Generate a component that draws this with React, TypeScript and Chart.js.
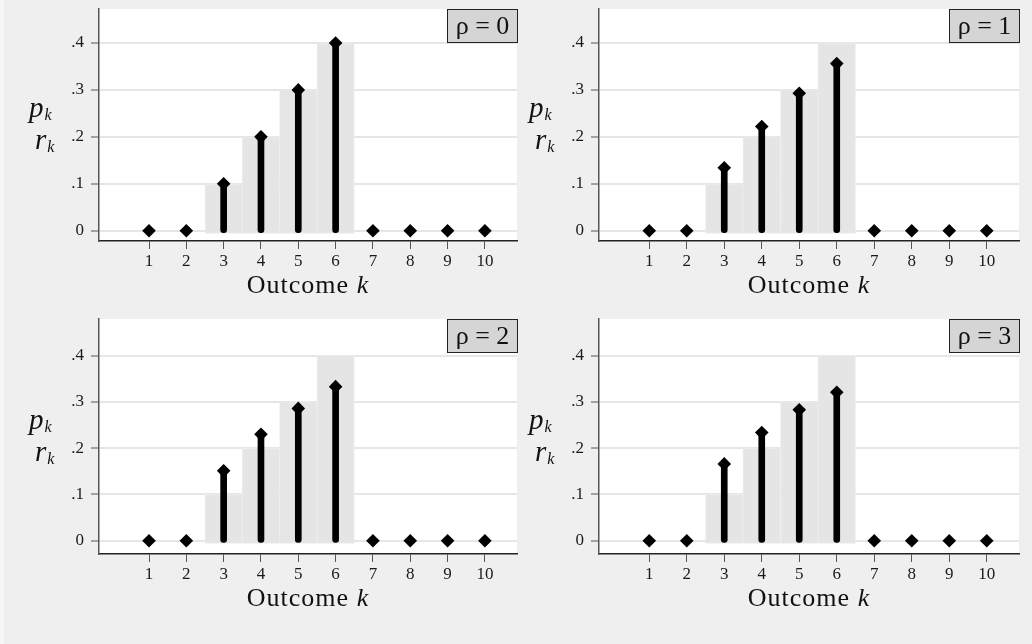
import React, { useEffect, useRef } from 'react';
import { Chart, registerables } from 'chart.js';

Chart.register(...registerables);

// ---------- data ----------
const outcomes = [1, 2, 3, 4, 5, 6, 7, 8, 9, 10];
const pValues = [0, 0, 0.1, 0.2, 0.3, 0.4, 0, 0, 0, 0];
const rRho0 = [0, 0, 0.1, 0.2, 0.3, 0.4, 0, 0, 0, 0];
const rRho1 = [0, 0, 0.134, 0.222, 0.293, 0.356, 0, 0, 0, 0];
const rRho2 = [0, 0, 0.151, 0.23, 0.286, 0.333, 0, 0, 0, 0];
const rRho3 = [0, 0, 0.166, 0.234, 0.283, 0.321, 0, 0, 0, 0];
const rhoLabels = ['ρ = 0', 'ρ = 1', 'ρ = 2', 'ρ = 3'];
const yTicks = [0, 0.1, 0.2, 0.3, 0.4];
const yTickLabels = ['0', '.1', '.2', '.3', '.4'];
const xTitleText = 'Outcome ';
const xTitleVar = 'k';

const FONT = '"Liberation Serif", "Times New Roman", serif';

type Box = { left: number; top: number; w: number; h: number };
type Area = { left: number; top: number; right: number; bottom: number };
type PanelCfg = {
  r: number[];
  label: string;
  canvas: Box;
  area: Area;
  yMin: number;
  yMax: number;
};

const panels: PanelCfg[] = [
  { r: rRho0, label: rhoLabels[0], canvas: { left: 0, top: 0, w: 526, h: 310 }, area: { left: 99, top: 9, right: 517, bottom: 241 }, yMin: -0.022, yMax: 0.4724 },
  { r: rRho1, label: rhoLabels[1], canvas: { left: 520, top: 0, w: 512, h: 310 }, area: { left: 79, top: 9, right: 499, bottom: 241 }, yMin: -0.022, yMax: 0.4724 },
  { r: rRho2, label: rhoLabels[2], canvas: { left: 0, top: 310, w: 526, h: 334 }, area: { left: 99, top: 9, right: 517, bottom: 244 }, yMin: -0.0288, yMax: 0.4793 },
  { r: rRho3, label: rhoLabels[3], canvas: { left: 520, top: 310, w: 512, h: 334 }, area: { left: 79, top: 9, right: 499, bottom: 244 }, yMin: -0.0288, yMax: 0.4793 },
];

function Panel({ cfg }: { cfg: PanelCfg }) {
  const ref = useRef<HTMLCanvasElement | null>(null);

  useEffect(() => {
    const c = cfg.canvas;
    const a = cfg.area;

    const decor = {
      id: 'decor',
      beforeDraw(chart: any) {
        const { ctx, chartArea } = chart;
        ctx.save();
        ctx.fillStyle = '#ffffff';
        ctx.fillRect(chartArea.left, chartArea.top, chartArea.right - chartArea.left, chartArea.bottom - chartArea.top);
        ctx.restore();
      },
      afterDraw(chart: any) {
        const { ctx, chartArea } = chart;
        ctx.save();
        ctx.fillStyle = '#111111';
        ctx.textAlign = 'left';
        ctx.textBaseline = 'alphabetic';

        // y-axis title: p_k over r_k
        const midY = (chartArea.top + chartArea.bottom) / 2;
        const drawSub = (main: string, x: number, y: number) => {
          ctx.font = `italic 29px ${FONT}`;
          ctx.fillText(main, x, y);
          const w = ctx.measureText(main).width;
          ctx.font = `italic 16px ${FONT}`;
          ctx.fillText('k', x + w + 1, y + 3);
        };
        drawSub('p', chartArea.left - 70, midY - 8);
        drawSub('r', chartArea.left - 64, midY + 24);

        // x-axis title
        (ctx as any).letterSpacing = '1px';
        ctx.font = `26px ${FONT}`;
        const w1 = ctx.measureText(xTitleText).width;
        ctx.font = `italic 26px ${FONT}`;
        const w2 = ctx.measureText(xTitleVar).width;
        const cx = (chartArea.left + chartArea.right) / 2;
        const x0 = cx - (w1 + w2) / 2;
        const by = chartArea.bottom + 52;
        ctx.font = `26px ${FONT}`;
        ctx.fillText(xTitleText, x0, by);
        ctx.font = `italic 26px ${FONT}`;
        ctx.fillText(xTitleVar, x0 + w1, by);
        (ctx as any).letterSpacing = '0px';

        // rho label box
        const bw = 71;
        const bh = 34;
        const bx = Math.round(chartArea.right + 1 - bw);
        const byTop = Math.round(chartArea.top);
        ctx.fillStyle = '#d5d5d5';
        ctx.fillRect(bx, byTop, bw, bh);
        ctx.strokeStyle = '#222222';
        ctx.lineWidth = 1;
        ctx.strokeRect(bx + 0.5, byTop + 0.5, bw - 1, bh - 1);
        ctx.fillStyle = '#111111';
        ctx.font = `26px ${FONT}`;
        ctx.textAlign = 'center';
        ctx.fillText(cfg.label, bx + bw / 2, byTop + 25);
        ctx.restore();
      },
    };

    const chart = new Chart(ref.current as HTMLCanvasElement, {
      type: 'bar',
      data: {
        datasets: [
          {
            type: 'scatter',
            data: outcomes.map((k, i) => ({ x: k, y: cfg.r[i] })),
            pointStyle: 'rectRot',
            pointRadius: 6.8,
            backgroundColor: '#000000',
            borderWidth: 0,
            order: 0,
          } as any,
          {
            type: 'bar',
            data: outcomes.map((k, i) => ({ x: k, y: cfg.r[i] })),
            backgroundColor: '#000000',
            barThickness: 6,
            grouped: false,
            base: -0.004,
            borderRadius: 3,
            borderSkipped: false,
            order: 1,
          } as any,
          {
            type: 'bar',
            data: outcomes.map((k, i) => ({ x: k, y: pValues[i] })).filter((d) => d.y > 0),
            backgroundColor: '#e5e5e5',
            borderColor: '#ececec',
            borderWidth: 1,
            borderSkipped: false,
            barPercentage: 1,
            categoryPercentage: 1,
            grouped: false,
            base: -0.006,
            order: 2,
          } as any,
        ],
      },
      options: {
        animation: false,
        responsive: false,
        events: [],
        layout: { padding: { left: 0, top: a.top, right: c.w - a.right, bottom: 0 } },
        plugins: { legend: { display: false }, tooltip: { enabled: false } },
        scales: {
          x: {
            type: 'linear',
            min: -0.34,
            max: 10.86,
            offset: false,
            afterBuildTicks: (s: any) => {
              s.ticks = outcomes.map((v) => ({ value: v }));
            },
            afterFit: (s: any) => {
              s.height = c.h - a.bottom;
              s.paddingLeft = 0;
              s.paddingRight = 0;
              s.paddingTop = 0;
              s.paddingBottom = 0;
            },
            grid: { drawOnChartArea: false, offset: false, tickLength: 8, tickColor: '#555555', tickWidth: 1 },
            border: { color: '#222222', width: 1.5 },
            ticks: {
              font: { family: FONT, size: 17 },
              color: '#1a1a1a',
              padding: 2,
              maxRotation: 0,
              autoSkip: false,
              callback: (v: any) => String(v),
            },
          },
          y: {
            type: 'linear',
            min: cfg.yMin,
            max: cfg.yMax,
            afterBuildTicks: (s: any) => {
              s.ticks = yTicks.map((v) => ({ value: v }));
            },
            afterFit: (s: any) => {
              s.width = a.left;
              s.paddingLeft = 0;
              s.paddingRight = 0;
              s.paddingTop = 0;
              s.paddingBottom = 0;
            },
            grid: { color: '#e6e6e6', lineWidth: 2, tickColor: '#555555', tickWidth: 1, tickLength: 8 },
            border: { color: '#555555', width: 1.5 },
            ticks: {
              font: { family: FONT, size: 17 },
              color: '#1a1a1a',
              padding: 7,
              callback: (v: any) => {
                const i = yTicks.findIndex((t) => Math.abs(t - Number(v)) < 1e-9);
                return i >= 0 ? yTickLabels[i] : '';
              },
            },
          },
        },
      } as any,
      plugins: [decor],
    });

    return () => chart.destroy();
  }, [cfg]);

  const c = cfg.canvas;
  return (
    <canvas
      ref={ref}
      width={c.w}
      height={c.h}
      style={{ position: 'absolute', left: c.left, top: c.top, width: c.w, height: c.h }}
    />
  );
}

export default function App() {
  return (
    <div
      style={{
        position: 'fixed',
        left: 0,
        top: 0,
        width: 1032,
        height: 644,
        background: '#efefef',
        overflow: 'hidden',
      }}
    >
      <div style={{ position: 'absolute', left: 0, top: 0, width: 4, height: 644, background: '#f6f6f6' }} />
      {panels.map((p, i) => (
        <Panel key={i} cfg={p} />
      ))}
    </div>
  );
}
